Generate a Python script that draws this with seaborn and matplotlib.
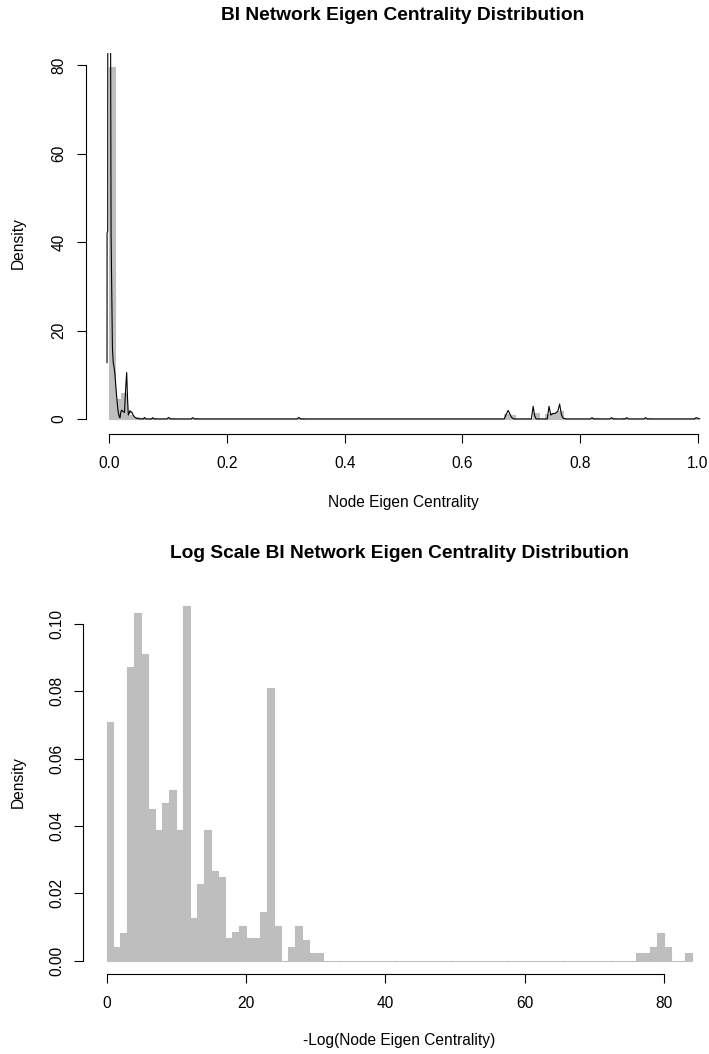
import matplotlib
matplotlib.use("Agg")
import matplotlib.pyplot as plt
import seaborn as sns
import numpy as np
import pandas as pd

# ---------------- data ----------------
# Top histogram: bins of width 0.01 on [0, 1], density values (only non-empty bins listed)
top_bin_left = [0.00, 0.01, 0.02, 0.03, 0.04, 0.05, 0.07, 0.10, 0.14, 0.32,
                0.67, 0.68, 0.72, 0.74, 0.75, 0.76, 0.82, 0.85, 0.87, 0.91, 0.99]
top_density = [79.5, 4.5, 5.8, 0.8, 0.4, 0.2, 0.2, 0.2, 0.2, 0.2,
               1.2, 0.8, 1.4, 1.2, 1.4, 1.8, 0.2, 0.2, 0.2, 0.2, 0.2]

# Kernel density curve
kde_x = [-0.0037, -0.0036, -0.0025, -0.0024, 0.0022, 0.0032, 0.0042, 0.0055, 0.0068,
         0.0085, 0.0098, 0.0112, 0.0127, 0.0142, 0.0155, 0.0170, 0.0183, 0.0198,
         0.0212, 0.0228, 0.0245, 0.0260, 0.0280, 0.0297, 0.0310, 0.0325, 0.0340,
         0.0353, 0.0368, 0.0382, 0.0410, 0.0438, 0.0470, 0.0500, 0.0540, 0.0580,
         0.0600, 0.0620, 0.0720, 0.0740, 0.0760,
         0.0980, 0.1010, 0.1040, 0.1390, 0.1420, 0.1450, 0.3190, 0.3220, 0.3250,
         0.6710, 0.6745, 0.6775, 0.6800, 0.6830, 0.6870, 0.7170, 0.7200, 0.7225,
         0.7250, 0.7440, 0.7470, 0.7500, 0.7530, 0.7580, 0.7620, 0.7650, 0.7680,
         0.7710, 0.7760, 0.8170, 0.8200, 0.8230, 0.8500, 0.8530, 0.8560, 0.8760,
         0.8790, 0.8820, 0.9080, 0.9110, 0.9140, 0.9940, 0.9970, 1.0030]
kde_y = [12.7, 42.0, 42.5, 95.0, 95.0, 42.0, 30.0, 16.0, 12.8,
         11.5, 10.0, 7.5, 5.0, 2.8, 1.4, 0.6, 0.3, 1.6,
         2.0, 1.8, 1.6, 1.5, 7.0, 10.5, 5.0, 0.9, 1.3,
         1.9, 1.5, 1.6, 0.8, 0.35, 0.15, 0.05, 0.02, 0.02,
         0.35, 0.02, 0.02, 0.3, 0.02,
         0.02, 0.35, 0.02, 0.02, 0.3, 0.02, 0.02, 0.35, 0.02,
         0.02, 1.1, 1.95, 1.3, 0.4, 0.02, 0.02, 2.85, 0.8,
         0.02, 0.02, 2.85, 0.9, 1.2, 1.3, 1.8, 3.4, 1.0,
         0.2, 0.02, 0.02, 0.3, 0.02, 0.02, 0.3, 0.02, 0.02,
         0.3, 0.02, 0.02, 0.3, 0.02, 0.02, 0.3, 0.02]

# Bottom histogram: bins of width 1 on [0, 84]
log_bin_left = list(range(84))
log_density = [0.0710, 0.0040, 0.0082, 0.0871, 0.1032, 0.0910, 0.0449, 0.0387, 0.0467, 0.0508,
               0.0387, 0.1053, 0.0125, 0.0226, 0.0387, 0.0267, 0.0247, 0.0066, 0.0086, 0.0103,
               0.0066, 0.0066, 0.0144, 0.0809, 0.0103, 0.0000, 0.0041, 0.0103, 0.0062, 0.0021,
               0.0021, 0, 0, 0, 0, 0, 0, 0, 0, 0,
               0, 0, 0, 0, 0, 0, 0, 0, 0, 0,
               0, 0, 0, 0, 0, 0, 0, 0, 0, 0,
               0, 0, 0, 0, 0, 0, 0, 0, 0, 0,
               0, 0, 0, 0, 0, 0, 0.0021, 0.0021, 0.0041, 0.0082,
               0.0041, 0, 0, 0.0021]

top_xticks = [0.0, 0.2, 0.4, 0.6, 0.8, 1.0]
top_yticks = [0, 20, 40, 60, 80]
bot_xticks = [0, 20, 40, 60, 80]
bot_yticks = [0.00, 0.02, 0.04, 0.06, 0.08, 0.10]

title_top = "BI Network Eigen Centrality Distribution"
title_bot = "Log Scale BI Network Eigen Centrality Distribution"
xlabel_top = "Node Eigen Centrality"
xlabel_bot = "-Log(Node Eigen Centrality)"
ylabel = "Density"

# ---------------- style ----------------
sns.set_style("white")
plt.rcParams["font.family"] = ["Liberation Sans", "DejaVu Sans"]
plt.rcParams["text.color"] = "black"
plt.rcParams["axes.labelcolor"] = "black"
plt.rcParams["xtick.color"] = "black"
plt.rcParams["ytick.color"] = "black"
GRAY = "#BEBEBE"
FS = 11.2
TFS = 13.8

W, H = 709, 1054
fig = plt.figure(figsize=(W / 100, H / 100), dpi=100)


def rect(l, r, t, b):
    return [l / W, 1 - b / H, (r - l) / W, (b - t) / H]


def style_axes(ax, xt, yt, xfmt, yfmt):
    for s in ["top", "right"]:
        ax.spines[s].set_visible(False)
    for s in ["left", "bottom"]:
        ax.spines[s].set_visible(True)
        ax.spines[s].set_color("black")
        ax.spines[s].set_linewidth(0.8)
    ax.spines["bottom"].set_bounds(xt[0], xt[-1])
    ax.spines["left"].set_bounds(yt[0], yt[-1])
    ax.set_xticks(xt)
    ax.set_yticks(yt)
    ax.set_xticklabels([xfmt.format(v) for v in xt])
    ax.set_yticklabels([yfmt.format(v) for v in yt], rotation=90, va="center")
    ax.tick_params(axis="both", which="major", bottom=True, left=True, top=False, right=False,
                   direction="out", length=6.7, width=0.8,
                   color="black", labelsize=FS, labelcolor="black")
    ax.tick_params(axis="x", pad=8.8)
    ax.tick_params(axis="y", pad=7)
    ax.grid(False)
    ax.set_facecolor("none")


# ---------------- top panel ----------------
tl, tr, tt, tb = 85.6, 709.0, 53.0, 434.0
tx0, tsx = 109.2, 588.8
ty0, tsy = 419.0, 4.425
ax1 = fig.add_axes(rect(tl, tr, tt, tb))
top_df = pd.DataFrame({"x": np.array(top_bin_left) + 0.005, "w": top_density})
sns.histplot(data=top_df, x="x", weights="w", binwidth=0.01, binrange=(0, 1), stat="count",
             color=GRAY, edgecolor=GRAY, linewidth=0.8, alpha=1.0, ax=ax1)
kde_df = pd.DataFrame({"x": kde_x, "y": kde_y})
sns.lineplot(data=kde_df, x="x", y="y", sort=False, estimator=None, color="black",
             linewidth=0.8, ax=ax1)
ax1.set_xlim((tl - tx0) / tsx, (tr - tx0) / tsx)
ax1.set_ylim((ty0 - tb) / tsy, (ty0 - tt) / tsy)
style_axes(ax1, top_xticks, top_yticks, "{:.1f}", "{:d}")
aw, ah = tr - tl, tb - tt
ax1.set_xlabel(xlabel_top, fontsize=FS)
ax1.xaxis.set_label_coords((403 - tl) / aw, (tb - 502) / ah)
ax1.xaxis.label.set_va("center")
ax1.set_ylabel(ylabel, fontsize=FS)
ax1.yaxis.set_label_coords((18 - tl) / aw, 0.5)
ax1.yaxis.label.set_va("center")
fig.text(403 / W, 1 - 16 / H, title_top, fontsize=TFS, fontweight="bold",
         ha="center", va="center", color="black")

# ---------------- bottom panel ----------------
bl, br, bt, bb = 83.1, 709.0, 589.7, 974.0
bx0, bsx = 106.5, 6.97
by0, bsy = 960.5, 3365.0
ax2 = fig.add_axes(rect(bl, br, bt, bb))
bot_df = pd.DataFrame({"x": np.array(log_bin_left) + 0.5, "w": log_density})
sns.histplot(data=bot_df, x="x", weights="w", binwidth=1, binrange=(0, 84), stat="count",
             color=GRAY, edgecolor=GRAY, linewidth=0.8, alpha=1.0, ax=ax2)
ax2.set_xlim((bl - bx0) / bsx, (br - bx0) / bsx)
ax2.set_ylim((by0 - bb) / bsy, (by0 - bt) / bsy)
style_axes(ax2, bot_xticks, bot_yticks, "{:d}", "{:.2f}")
aw2, ah2 = br - bl, bb - bt
ax2.set_xlabel(xlabel_bot, fontsize=FS)
ax2.xaxis.set_label_coords((399 - bl) / aw2, (bb - 1040) / ah2)
ax2.xaxis.label.set_va("center")
ax2.set_ylabel(ylabel, fontsize=FS)
ax2.yaxis.set_label_coords((18 - bl) / aw2, 0.5)
ax2.yaxis.label.set_va("center")
fig.text(399 / W, 1 - 554 / H, title_bot, fontsize=TFS, fontweight="bold",
         ha="center", va="center", color="black")

fig.savefig("out.png", dpi=100, facecolor="white")
